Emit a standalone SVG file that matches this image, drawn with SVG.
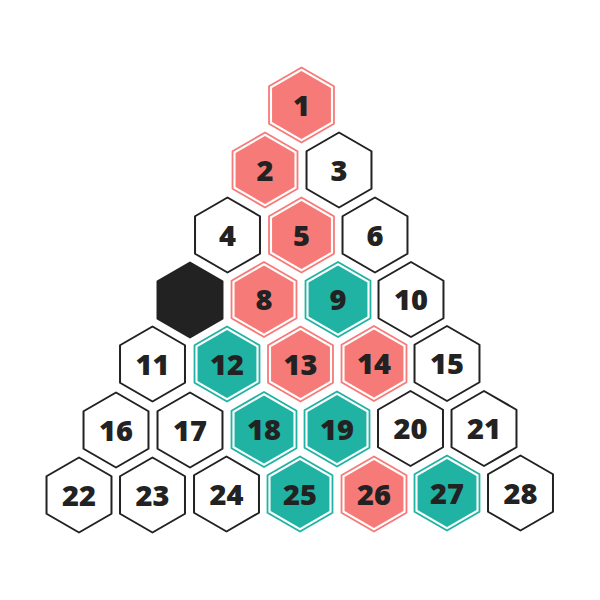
<svg xmlns="http://www.w3.org/2000/svg" width="600" height="600" viewBox="0 0 600 600">
<style>
.w{fill:#fff;stroke:#222;stroke-width:2;stroke-linejoin:round}
.k{fill:#222;stroke:#222;stroke-width:2;stroke-linejoin:round}
.ro{fill:#fff;stroke:#F67A77;stroke-width:1.8;stroke-linejoin:round}
.ri{fill:#F67A77}
.to{fill:#fff;stroke:#20B2A2;stroke-width:1.8;stroke-linejoin:round}
.ti{fill:#20B2A2}
text{font-family:"Open Sans","Noto Sans",sans-serif;font-weight:800;font-size:29px;fill:#222;text-anchor:middle}
</style>
<defs>
<polygon id="ho" points="0,-37.5 32.48,-18.75 32.48,18.75 0,37.5 -32.48,18.75 -32.48,-18.75"/>
<polygon id="hi" points="0,-34 29.44,-17 29.44,17 0,34 -29.44,17 -29.44,-17"/>
</defs>
<rect width="600" height="600" fill="#fff"/>
<g id="n1" transform="translate(301.5,105)"><use href="#ho" class="ro"/><use href="#hi" class="ri"/><text y="10.5">1</text></g>
<g id="n2" transform="translate(265,170)"><use href="#ho" class="ro"/><use href="#hi" class="ri"/><text y="10.5">2</text></g>
<g id="n3" transform="translate(339,170)"><use href="#ho" class="w"/><text y="10.5">3</text></g>
<g id="n4" transform="translate(227.5,235)"><use href="#ho" class="w"/><text y="10.5">4</text></g>
<g id="n5" transform="translate(301.5,235)"><use href="#ho" class="ro"/><use href="#hi" class="ri"/><text y="10.5">5</text></g>
<g id="n6" transform="translate(375,235)"><use href="#ho" class="w"/><text y="10.5">6</text></g>
<g id="n7" transform="translate(190,300)"><use href="#ho" class="k"/></g>
<g id="n8" transform="translate(264,299.5)"><use href="#ho" class="ro"/><use href="#hi" class="ri"/><text y="10.5">8</text></g>
<g id="n9" transform="translate(338,299.5)"><use href="#ho" class="to"/><use href="#hi" class="ti"/><text y="10.5">9</text></g>
<g id="n10" transform="translate(411,299.5)"><use href="#ho" class="w"/><text y="10.5">10</text></g>
<g id="n11" transform="translate(152.5,364)"><use href="#ho" class="w"/><text y="10.5">11</text></g>
<g id="n12" transform="translate(227,364)"><use href="#ho" class="to"/><use href="#hi" class="ti"/><text y="10.5">12</text></g>
<g id="n13" transform="translate(300.5,364)"><use href="#ho" class="ro"/><use href="#hi" class="ri"/><text y="10.5">13</text></g>
<g id="n14" transform="translate(374,363.5)"><use href="#ho" class="ro"/><use href="#hi" class="ri"/><text y="10.5">14</text></g>
<g id="n15" transform="translate(447,363.5)"><use href="#ho" class="w"/><text y="10.5">15</text></g>
<g id="n16" transform="translate(116,430)"><use href="#ho" class="w"/><text y="10.5">16</text></g>
<g id="n17" transform="translate(190,430)"><use href="#ho" class="w"/><text y="10.5">17</text></g>
<g id="n18" transform="translate(264,429.5)"><use href="#ho" class="to"/><use href="#hi" class="ti"/><text y="10.5">18</text></g>
<g id="n19" transform="translate(337,429)"><use href="#ho" class="to"/><use href="#hi" class="ti"/><text y="10.5">19</text></g>
<g id="n20" transform="translate(410.5,428.5)"><use href="#ho" class="w"/><text y="10.5">20</text></g>
<g id="n21" transform="translate(484,428.5)"><use href="#ho" class="w"/><text y="10.5">21</text></g>
<g id="n22" transform="translate(79,495)"><use href="#ho" class="w"/><text y="10.5">22</text></g>
<g id="n23" transform="translate(152.5,495)"><use href="#ho" class="w"/><text y="10.5">23</text></g>
<g id="n24" transform="translate(226.5,494)"><use href="#ho" class="w"/><text y="10.5">24</text></g>
<g id="n25" transform="translate(300,494)"><use href="#ho" class="to"/><use href="#hi" class="ti"/><text y="10.5">25</text></g>
<g id="n26" transform="translate(374,494)"><use href="#ho" class="ro"/><use href="#hi" class="ri"/><text y="10.5">26</text></g>
<g id="n27" transform="translate(447,493)"><use href="#ho" class="to"/><use href="#hi" class="ti"/><text y="10.5">27</text></g>
<g id="n28" transform="translate(520.5,493)"><use href="#ho" class="w"/><text y="10.5">28</text></g>
</svg>
